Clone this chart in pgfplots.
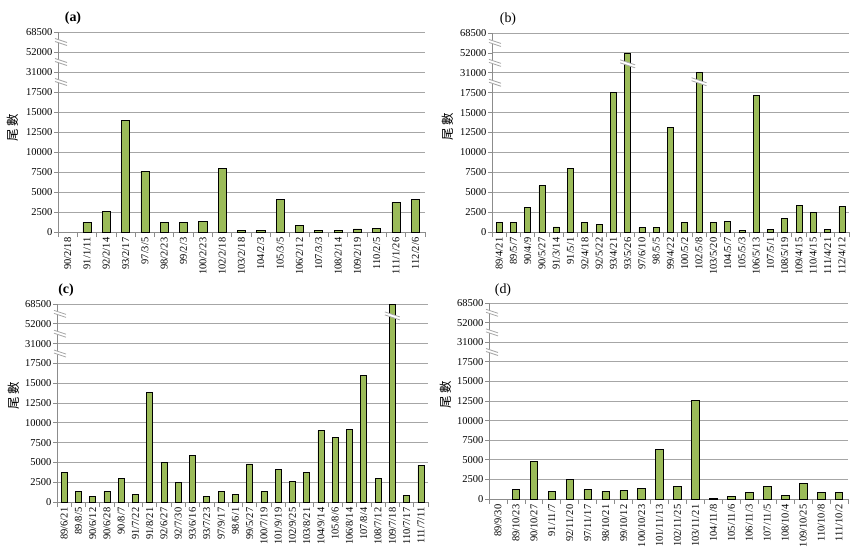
\documentclass[border=0pt]{standalone}
\usepackage{fontspec}
\setmainfont{Liberation Serif}
\newfontfamily\cjk{Noto Sans CJK TC}
\usepackage{pgfplots}
\pgfplotsset{compat=1.18}
\definecolor{barg}{HTML}{9BBB59}
\definecolor{gridg}{HTML}{A6A6A6}
\definecolor{axg}{HTML}{8C8C8C}
\pgfplotsset{panel/.style={
  ybar, scale only axis, bar width=0.42, ymin=0, ymax=10,
  ytick={0,1,...,10},
  yticklabels={0,2500,5000,7500,10000,12500,15000,17500,31000,52000,68500},
  ymajorgrids, grid style={draw=gridg, line width=0.9bp},
  axis lines*=left, axis line style={-, draw=axg, line width=0.9bp},
  tick align=outside, major tick length=4bp, minor tick length=5bp,
  tick style={draw=axg, line width=0.8bp},
  major x tick style={draw=none},
  yticklabel style={font=\fontsize{10.5}{12}\selectfont, inner sep=1.5bp},
  xticklabel style={rotate=90, anchor=east, font=\fontsize{10.5}{12}\selectfont, inner sep=1.5bp},
  y filter/.expression={min(y,17500)/2500 + max(min(y,31000)-17500,0)/13500 + max(min(y,52000)-31000,0)/21000 + max(y-52000,0)/16500},
  anchor=south west,
}}
\newcommand{\brk}[1]{\begin{scope}[shift={(#1)}]
 \fill[white] (-7.5bp,4bp) -- (7.5bp,-1bp) -- (7.5bp,-4bp) -- (-7.5bp,1bp) -- cycle;
 \draw[gridg, line width=0.8bp] (-7.5bp,4bp) -- (7.5bp,-1bp) (-7.5bp,1bp) -- (7.5bp,-4bp);
\end{scope}}
\newcommand{\abrk}[1]{\begin{scope}[shift={(#1)}, xshift=3bp]
 \fill[white] (-6bp,3.5bp) -- (6bp,-0.5bp) -- (6bp,-3.5bp) -- (-6bp,0.5bp) -- cycle;
 \draw[gridg, line width=0.8bp] (-6bp,3.5bp) -- (6bp,-0.5bp) (-6bp,0.5bp) -- (6bp,-3.5bp);
\end{scope}}
\newcommand{\axbreaks}[1]{\abrk{#1a}\abrk{#1b}\abrk{#1c}}
\newcommand{\axcoords}[1]{%
 \coordinate (#1a) at (rel axis cs:0,0.75);
 \coordinate (#1b) at (rel axis cs:0,0.85);
 \coordinate (#1c) at (rel axis cs:0,0.95);}
\begin{document}
\begin{tikzpicture}
\useasboundingbox (0,0) rectangle (866bp,-559bp);
% (a)
\begin{axis}[panel, at={(58bp,-232bp)}, width=367bp, height=200bp,
  xmin=-0.5, xmax=18.5, xtick={0,...,18}, minor xtick={-0.5,0.5,...,18.5},
  xticklabels={90/2/18,91/1/11,92/2/14,93/2/17,97/3/5,98/2/23,99/2/3,100/2/23,102/2/18,103/2/18,104/2/3,105/3/5,106/2/12,107/3/3,108/2/14,109/2/19,110/2/5,111/1/26,112/2/6}]
\addplot[fill=barg, draw=black, line width=0.7bp] coordinates {
 (1,1200) (2,2600) (3,14000) (4,7600) (5,1200) (6,1200) (7,1350) (8,8000) (9,150) (10,200)
 (11,4050) (12,800) (13,200) (14,200) (15,380) (16,420) (17,3700) (18,4070)};
\axcoords{A}
\end{axis}
\axbreaks{A}
% (b)
\begin{axis}[panel, at={(492bp,-232bp)}, width=357bp, height=199bp,
  xmin=-0.5, xmax=24.5, xtick={0,...,24}, minor xtick={-0.5,0.5,...,24.5},
  xticklabels={89/4/21,89/5/7,90/4/9,90/5/27,91/3/14,91/5/1,92/4/18,92/5/22,93/4/21,93/5/26,97/6/10,98/5/5,99/4/22,100/5/2,102/5/8,103/5/20,104/5/7,105/5/3,106/5/13,107/5/1,108/5/19,109/4/15,110/4/15,111/4/21,112/4/12}]
\addplot[fill=barg, draw=black, line width=0.7bp] coordinates {
 (0,1200) (1,1200) (2,3100) (3,5800) (4,630) (5,8000) (6,1200) (7,1000) (8,17600) (9,52000)
 (10,550) (11,550) (12,13150) (13,1200) (14,31000) (15,1200) (16,1350) (17,200) (18,17200)
 (19,300) (20,1750) (21,3300) (22,2450) (23,300) (24,3200)};
\axcoords{B}
\coordinate (Bk1) at (axis cs:9,8.45);
\coordinate (Bk2) at (axis cs:14,7.55);
\end{axis}
\axbreaks{B}
\brk{Bk1}\brk{Bk2}
% (c)
\begin{axis}[panel, at={(57bp,-502bp)}, width=371bp, height=198bp,
  xmin=-0.5, xmax=25.5, xtick={0,...,25}, minor xtick={-0.5,0.5,...,25.5},
  xticklabels={89/6/21,89/8/5,90/6/12,90/6/28,90/8/7,91/7/22,91/8/21,92/6/27,92/7/30,93/6/16,93/7/23,97/9/17,98/6/1,99/5/27,100/7/19,101/9/19,102/9/25,103/8/21,104/9/14,105/8/6,106/8/14,107/8/4,108/7/12,109/7/18,110/7/17,111/7/11}]
\addplot[fill=barg, draw=black, line width=0.7bp] coordinates {
 (0,3700) (1,1300) (2,700) (3,1300) (4,2950) (5,1000) (6,13800) (7,5000) (8,2500) (9,5850)
 (10,700) (11,1300) (12,1000) (13,4800) (14,1300) (15,4150) (16,2550) (17,3700) (18,9000)
 (19,8150) (20,9150) (21,16000) (22,2950) (23,68500) (24,850) (25,4650)};
\axcoords{C}
\coordinate (Ck1) at (axis cs:23,9.4);
\end{axis}
\axbreaks{C}
\brk{Ck1}
% (d)
\begin{axis}[panel, at={(489bp,-499bp)}, width=359bp, height=196bp,
  xmin=-0.5, xmax=19.5, xtick={0,...,19}, minor xtick={-0.5,0.5,...,19.5},
  xticklabels={89/9/30,89/10/23,90/10/27,91/11/7,92/11/20,97/11/17,98/10/21,99/10/12,100/10/23,101/11/13,102/11/25,103/11/21,104/11/8,105/11/6,106/11/3,107/11/5,108/10/4,109/10/25,110/10/8,111/10/2}]
\addplot[fill=barg, draw=black, line width=0.7bp] coordinates {
 (1,1200) (2,4800) (3,1000) (4,2500) (5,1200) (6,1000) (7,1050) (8,1350) (9,6350) (10,1600)
 (11,12550) (12,100) (13,350) (14,800) (15,1600) (16,500) (17,1950) (18,800) (19,850)};
\axcoords{D}
\end{axis}
\axbreaks{D}
% panel labels
\node[font=\bfseries\fontsize{14}{16}\selectfont] at (73bp,-18bp) {(a)};
\node[font=\fontsize{14}{16}\selectfont] at (508bp,-19bp) {(b)};
\node[font=\bfseries\fontsize{14}{16}\selectfont] at (66bp,-290bp) {(c)};
\node[font=\fontsize{14}{16}\selectfont] at (503bp,-290bp) {(d)};
% y labels
\node[rotate=90, font=\cjk\fontsize{12.5}{14}\selectfont] at (13bp,-128bp) {尾 數};
\node[rotate=90, font=\cjk\fontsize{12.5}{14}\selectfont] at (448bp,-127bp) {尾 數};
\node[rotate=90, font=\cjk\fontsize{12.5}{14}\selectfont] at (14bp,-396bp) {尾 數};
\node[rotate=90, font=\cjk\fontsize{12.5}{14}\selectfont] at (446bp,-395bp) {尾 數};
\end{tikzpicture}
\end{document}
